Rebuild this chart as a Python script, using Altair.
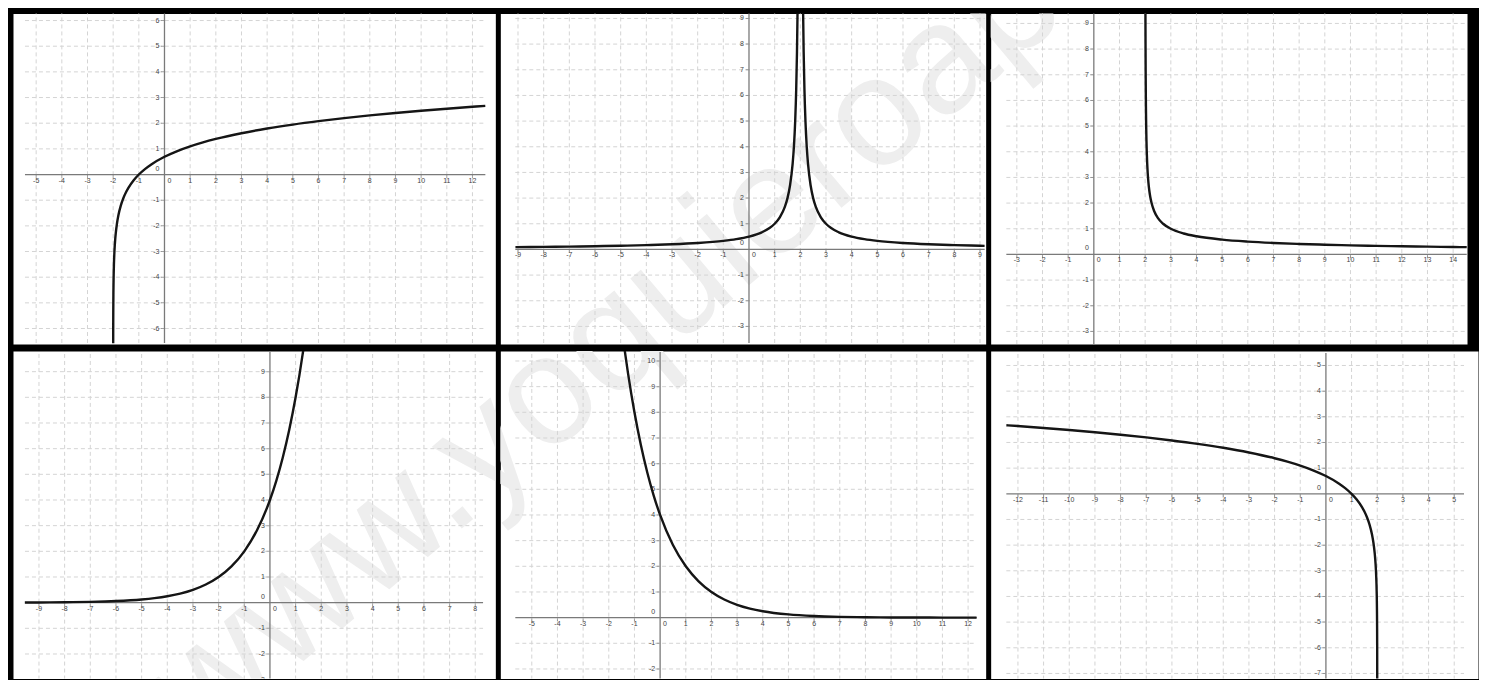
import altair as alt
import pandas as pd

# ---------------- data ----------------
# Panel 1 (top-left)
P1_X = [-1.9986, -1.998, -1.997, -1.995, -1.99, -1.985, -1.98, -1.97, -1.95, -1.92, -1.9, -1.85, -1.8, -1.7,
        -1.6, -1.5, -1.4, -1.2, -1.0, -0.75, -0.5, 0, 0.5, 1, 1.5, 2, 3, 4, 5, 6, 7, 8, 9, 10, 11, 12, 12.5]
P1_Y = [-6.571, -6.215, -5.809, -5.298, -4.605, -4.200, -3.912, -3.507, -2.996, -2.526, -2.303, -1.897, -1.609,
        -1.204, -0.916, -0.693, -0.511, -0.223, 0.0, 0.223, 0.405, 0.693, 0.916, 1.099, 1.253, 1.386, 1.609,
        1.792, 1.946, 2.079, 2.197, 2.303, 2.398, 2.485, 2.565, 2.639, 2.674]
P1_XTICKS = [-5, -4, -3, -2, -1, 1, 2, 3, 4, 5, 6, 7, 8, 9, 10, 11, 12]
P1_YTICKS = [-6, -5, -4, -3, -2, -1, 1, 2, 3, 4, 5, 6]

# Panel 2 (top-middle), two branches
P2L_X = [-9.1, -8, -7, -6, -5, -4, -3, -2, -1, -0.5, 0, 0.5, 0.8, 1, 1.2, 1.4, 1.5, 1.6, 1.7, 1.75, 1.8, 1.84, 1.87, 1.894]
P2L_Y = [0.090, 0.1, 0.111, 0.125, 0.143, 0.167, 0.2, 0.25, 0.333, 0.4, 0.5, 0.667, 0.833, 1.0, 1.25, 1.667, 2.0,
         2.5, 3.333, 4.0, 5.0, 6.25, 7.692, 9.434]
P2R_X = [2.106, 2.13, 2.16, 2.2, 2.25, 2.3, 2.4, 2.5, 2.6, 2.8, 3, 3.2, 3.5, 4, 4.5, 5, 6, 7, 8, 9, 9.18]
P2R_Y = [9.434, 7.692, 6.25, 5.0, 4.0, 3.333, 2.5, 2.0, 1.667, 1.25, 1.0, 0.833, 0.667, 0.5, 0.4, 0.333, 0.25,
         0.2, 0.167, 0.143, 0.139]
P2_XTICKS = [-9, -8, -7, -6, -5, -4, -3, -2, -1, 1, 2, 3, 4, 5, 6, 7, 8, 9]
P2_YTICKS = [-3, -2, -1, 1, 2, 3, 4, 5, 6, 7, 8, 9]

# Panel 3 (top-right)
P3_X = [2.0107, 2.0125, 2.015, 2.02, 2.025, 2.03, 2.04, 2.05, 2.0625, 2.08, 2.1, 2.125, 2.16, 2.2, 2.25, 2.35,
        2.5, 2.7, 3, 3.5, 4, 5, 6, 7, 8, 9, 10, 11, 12, 13, 14, 14.53]
P3_Y = [9.667, 8.944, 8.165, 7.071, 6.325, 5.774, 5.0, 4.472, 4.0, 3.536, 3.162, 2.828, 2.5, 2.236, 2.0, 1.690,
        1.414, 1.195, 1.0, 0.816, 0.707, 0.577, 0.5, 0.447, 0.408, 0.378, 0.354, 0.333, 0.316, 0.302, 0.289, 0.2825]
P3_XTICKS = [-3, -2, -1, 1, 2, 3, 4, 5, 6, 7, 8, 9, 10, 11, 12, 13, 14]
P3_YTICKS = [-3, -2, -1, 1, 2, 3, 4, 5, 6, 7, 8, 9]

# Panel 4 (bottom-left)
P4_X = [-9.55, -9, -8, -7, -6, -5, -4.5, -4, -3.5, -3, -2.5, -2, -1.5, -1, -0.5, 0, 0.25, 0.5, 0.75, 1, 1.15, 1.3]
P4_Y = [0.00534, 0.0078, 0.0156, 0.03125, 0.0625, 0.125, 0.177, 0.25, 0.354, 0.5, 0.707, 1.0, 1.414, 2.0, 2.828,
        4.0, 4.757, 5.657, 6.727, 8.0, 8.876, 9.849]
P4_XTICKS = [-9, -8, -7, -6, -5, -4, -3, -2, -1, 1, 2, 3, 4, 5, 6, 7, 8]
P4_YTICKS = [-3, -2, -1, 1, 2, 3, 4, 5, 6, 7, 8, 9]

# Panel 5 (bottom-middle)
P5_X = [-1.4, -1.25, -1, -0.75, -0.5, -0.25, 0, 0.5, 1, 1.5, 2, 2.5, 3, 3.5, 4, 5, 6, 7, 8, 9, 10, 11, 12.33]
P5_Y = [10.556, 9.514, 8.0, 6.727, 5.657, 4.757, 4.0, 2.828, 2.0, 1.414, 1.0, 0.707, 0.5, 0.354, 0.25, 0.125,
        0.0625, 0.03125, 0.0156, 0.0078, 0.0039, 0.00195, 0.00078]
P5_XTICKS = [-5, -4, -3, -2, -1, 1, 2, 3, 4, 5, 6, 7, 8, 9, 10, 11, 12]
P5_YTICKS = [-2, -1, 1, 2, 3, 4, 5, 6, 7, 8, 9, 10]

# Panel 6 (bottom-right)
P6_X = [-12.45, -12, -11, -10, -9, -8, -7, -6, -5, -4, -3, -2, -1.5, -1, -0.5, 0, 0.5, 0.75, 1, 1.2, 1.4, 1.5,
        1.6, 1.7, 1.8, 1.85, 1.9, 1.92, 1.95, 1.97, 1.98, 1.985, 1.99, 1.995, 1.997, 1.998, 1.999, 1.99945]
P6_Y = [2.671, 2.639, 2.565, 2.485, 2.398, 2.303, 2.197, 2.079, 1.946, 1.792, 1.609, 1.386, 1.253, 1.099, 0.916,
        0.693, 0.405, 0.223, 0.0, -0.223, -0.511, -0.693, -0.916, -1.204, -1.609, -1.897, -2.303, -2.526, -2.996,
        -3.507, -3.912, -4.200, -4.605, -5.298, -5.809, -6.215, -6.908, -7.506]
P6_XTICKS = [-12, -11, -10, -9, -8, -7, -6, -5, -4, -3, -2, -1, 1, 2, 3, 4, 5]
P6_YTICKS = [-7, -6, -5, -4, -3, -2, -1, 1, 2, 3, 4, 5]

WATERMARK = "www.yoquieroaprobar.es"

# ---------------- layout (page pixels) ----------------
PPU = 25.7
WM_X, WM_Y = 200, 745

PANELS = [
    dict(L=12, T=12, W=483, H=331, ox=163.7, oy=173.3, vx=(24, 485), vy=(9, 342),
         xt=P1_XTICKS, yt=P1_YTICKS, curves=[("a", P1_X, P1_Y)]),
    dict(L=500, T=12, W=486, H=331, ox=749, oy=248.3, vx=(515, 985), vy=(5, 342),
         xt=P2_XTICKS, yt=P2_YTICKS, curves=[("a", P2L_X, P2L_Y), ("b", P2R_X, P2R_Y)]),
    dict(L=991, T=12, W=477, H=331, ox=1094.3, oy=253.3, vx=(1006.7, 1467.7), vy=(5, 343),
         xt=P3_XTICKS, yt=P3_YTICKS, curves=[("a", P3_X, P3_Y)]),
    dict(L=12, T=348, W=483, H=328, ox=269.3, oy=600, vx=(24, 482.7), vy=(349, 684),
         xt=P4_XTICKS, yt=P4_YTICKS, curves=[("a", P4_X, P4_Y)]),
    dict(L=500, T=348, W=486, H=328, ox=660, oy=615, vx=(515, 977), vy=(349, 684),
         xt=P5_XTICKS, yt=P5_YTICKS, curves=[("a", P5_X, P5_Y)]),
    dict(L=991, T=348, W=488, H=328, ox=1326.7, oy=491, vx=(1006.7, 1465), vy=(350, 684),
         xt=P6_XTICKS, yt=P6_YTICKS, curves=[("a", P6_X, P6_Y)]),
]

GRID = "#d4d4d4"
AXIS = "#7a7a7a"
LABEL = "#444444"
FONT = "Liberation Sans"


def build(p):
    L, T, W, H, ox, oy = p["L"], p["T"], p["W"], p["H"], p["ox"], p["oy"]
    xd = [(L - ox) / PPU, (L + W - ox) / PPU]
    yd = [(oy - (T + H)) / PPU, (oy - T) / PPU]
    xs = alt.Scale(domain=xd, nice=False, zero=False)
    ys = alt.Scale(domain=yd, nice=False, zero=False)

    def X(f):
        return alt.X(f, type="quantitative", scale=xs, axis=None)

    def Y(f):
        return alt.Y(f, type="quantitative", scale=ys, axis=None)

    gx0, gx1 = (p["vx"][0] - ox) / PPU, (p["vx"][1] - ox) / PPU
    gy0, gy1 = (oy - p["vy"][1]) / PPU, (oy - p["vy"][0]) / PPU

    wm = alt.Chart(pd.DataFrame({"t": [WATERMARK]})).mark_text(
        fontSize=155, angle=320, align="left", baseline="alphabetic",
        color="#eeeeee", font=FONT, clip=True
    ).encode(x=alt.value(WM_X - L), y=alt.value(WM_Y - T), text="t:N")

    vg = pd.DataFrame({"gx": p["xt"], "y0": gy0, "y1": gy1})
    hg = pd.DataFrame({"gy": p["yt"], "x0": gx0, "x1": gx1})
    vgrid = alt.Chart(vg).mark_rule(color=GRID, strokeWidth=1, strokeDash=[4, 3], clip=True).encode(
        x=X("gx"), y=Y("y0"), y2="y1")
    hgrid = alt.Chart(hg).mark_rule(color=GRID, strokeWidth=1, strokeDash=[4, 3], clip=True).encode(
        y=Y("gy"), x=X("x0"), x2="x1")

    xa = alt.Chart(pd.DataFrame({"x0": [gx0], "x1": [gx1], "y": [0]})).mark_rule(
        color=AXIS, strokeWidth=1.3, clip=True).encode(x=X("x0"), x2="x1", y=Y("y"))
    ya = alt.Chart(pd.DataFrame({"y0": [gy0], "y1": [gy1], "x": [0]})).mark_rule(
        color=AXIS, strokeWidth=1.3, clip=True).encode(y=Y("y0"), y2="y1", x=X("x"))

    xl = pd.DataFrame({"v": p["xt"], "z": 0, "t": [str(v) for v in p["xt"]]})
    yl = pd.DataFrame({"v": p["yt"], "z": 0, "t": [str(v) for v in p["yt"]]})
    xticks = alt.Chart(xl).mark_tick(orient="vertical", size=3, thickness=1, color=AXIS,
                                     yOffset=2, clip=True).encode(x=X("v"), y=Y("z"))
    yticks = alt.Chart(yl).mark_tick(orient="horizontal", size=3, thickness=1, color=AXIS,
                                     xOffset=-2, clip=True).encode(y=Y("v"), x=X("z"))
    xlab = alt.Chart(xl).mark_text(fontSize=7, font=FONT, color=LABEL, baseline="middle",
                                   align="center", dy=6, clip=True).encode(x=X("v"), y=Y("z"), text="t:N")
    ylab = alt.Chart(yl).mark_text(fontSize=7, font=FONT, color=LABEL, baseline="middle",
                                   align="right", dx=-5, clip=True).encode(y=Y("v"), x=X("z"), text="t:N")
    o = pd.DataFrame({"z": [0], "t": ["0"]})
    x0lab = alt.Chart(o).mark_text(fontSize=7, font=FONT, color=LABEL, baseline="middle",
                                   align="left", dx=3, dy=6, clip=True).encode(x=X("z"), y=Y("z"), text="t:N")
    y0lab = alt.Chart(o).mark_text(fontSize=7, font=FONT, color=LABEL, baseline="middle",
                                   align="right", dx=-5, dy=-6, clip=True).encode(x=X("z"), y=Y("z"), text="t:N")

    rows = []
    for name, xs_, ys_ in p["curves"]:
        for a, b in zip(xs_, ys_):
            rows.append({"x": a, "y": b, "branch": name})
    curve = alt.Chart(pd.DataFrame(rows)).mark_line(
        color="#151515", strokeWidth=2.4, interpolate="monotone", clip=True
    ).encode(x=X("x"), y=Y("y"), detail="branch:N")

    return alt.layer(wm, vgrid, hgrid, xa, ya, xticks, yticks, xlab, ylab, x0lab, y0lab, curve).properties(
        width=W, height=H)


charts = [build(p) for p in PANELS]
top = alt.hconcat(charts[0], charts[1], charts[2], spacing=5, bounds="flush")
bottom = alt.hconcat(charts[3], charts[4], charts[5], spacing=5, bounds="flush")
chart = alt.vconcat(top, bottom, spacing=5).properties(
    padding={"left": 4, "top": 4, "right": 0, "bottom": 0},
    background="black",
).configure_view(fill="white", stroke="transparent")

chart.save("out.html", embed_options={"renderer": "svg", "actions": False})
